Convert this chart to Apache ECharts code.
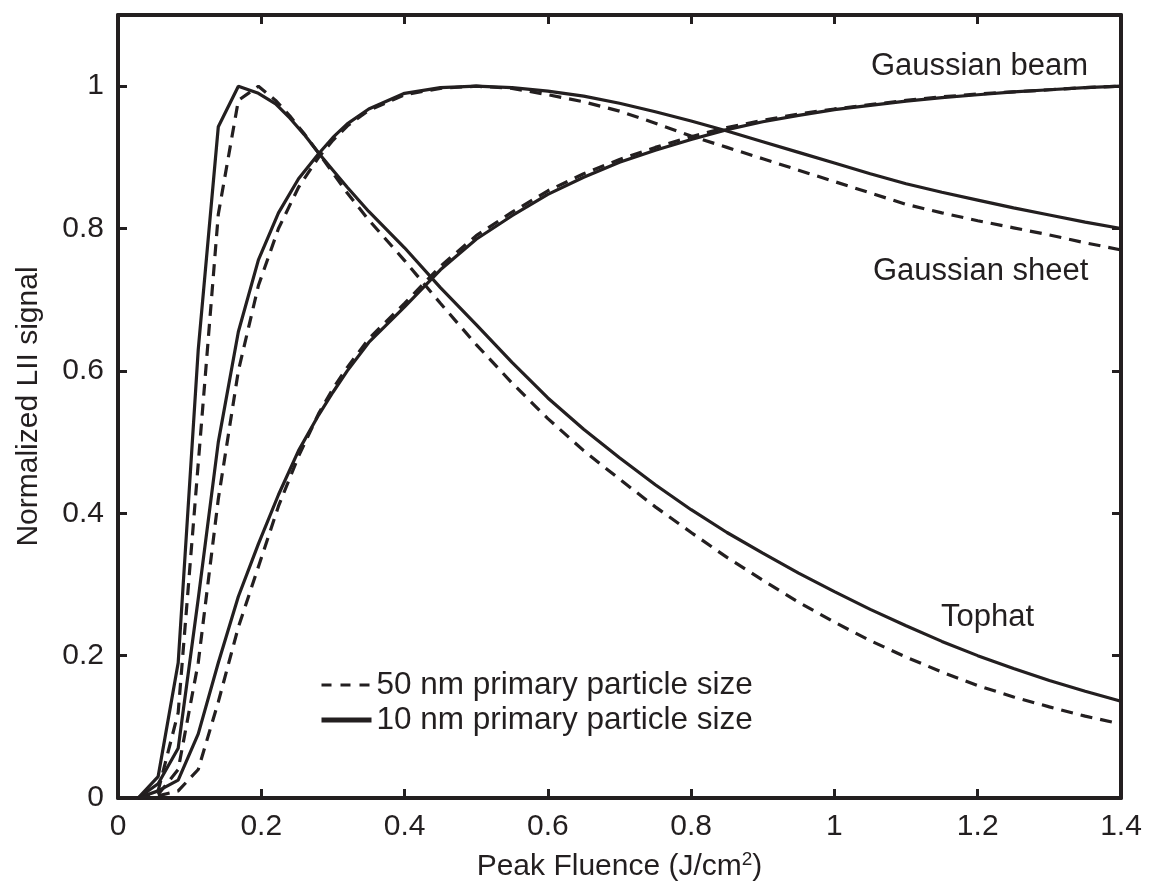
<!DOCTYPE html>
<html>
<head>
<meta charset="utf-8">
<script src="https://cdn.jsdelivr.net/npm/echarts@6/dist/echarts.min.js"></script>
<style>
html,body{margin:0;padding:0;background:#fff;}
#chart{width:1149px;height:893px;}
</style>
</head>
<body>
<div id="chart"></div>
<script>
// Peak fluence (J/cm^2) sample points and normalized LII signal values
var tophat10X = [0.028,0.056,0.084,0.112,0.14,0.168,0.196,0.22,0.24,0.26,0.28,0.30,0.32,0.35,0.4,0.45,0.5,0.55,0.6,0.65,0.7,0.75,0.8,0.85,0.9,0.95,1.0,1.05,1.1,1.15,1.2,1.25,1.3,1.35,1.4];
var tophat10Y = [0,0.03,0.19,0.63,0.943,1.0,0.99,0.975,0.955,0.932,0.906,0.882,0.858,0.824,0.773,0.717,0.665,0.612,0.562,0.518,0.478,0.44,0.405,0.373,0.344,0.316,0.29,0.265,0.242,0.22,0.2,0.182,0.165,0.15,0.136];
var tophat50X = [0.028,0.056,0.084,0.112,0.14,0.168,0.196,0.22,0.24,0.26,0.28,0.30,0.32,0.35,0.4,0.45,0.5,0.55,0.6,0.65,0.7,0.75,0.8,0.85,0.9,0.95,1.0,1.05,1.1,1.15,1.2,1.25,1.3,1.35,1.4];
var tophat50Y = [0,0.01,0.12,0.47,0.82,0.98,1.0,0.98,0.958,0.933,0.906,0.878,0.85,0.812,0.755,0.695,0.637,0.583,0.533,0.488,0.448,0.409,0.373,0.338,0.306,0.275,0.247,0.221,0.198,0.177,0.158,0.142,0.128,0.115,0.104];

var sheet10X = [0.028,0.056,0.084,0.112,0.14,0.168,0.196,0.224,0.252,0.28,0.30,0.32,0.35,0.4,0.45,0.5,0.55,0.6,0.65,0.7,0.75,0.8,0.85,0.9,0.95,1.0,1.05,1.1,1.15,1.2,1.25,1.3,1.35,1.4];
var sheet10Y = [0,0.02,0.07,0.28,0.50,0.655,0.756,0.822,0.87,0.905,0.928,0.947,0.968,0.99,0.998,1.0,0.998,0.993,0.986,0.976,0.964,0.951,0.937,0.922,0.907,0.892,0.877,0.863,0.851,0.84,0.829,0.819,0.809,0.80];
var sheet50X = [0.028,0.056,0.084,0.112,0.14,0.168,0.196,0.224,0.252,0.28,0.30,0.32,0.35,0.4,0.45,0.5,0.55,0.6,0.65,0.7,0.75,0.8,0.85,0.9,0.95,1.0,1.05,1.1,1.15,1.2,1.25,1.3,1.35,1.4];
var sheet50Y = [0,0.005,0.04,0.19,0.42,0.60,0.72,0.80,0.858,0.90,0.924,0.944,0.966,0.988,0.997,1.0,0.997,0.988,0.978,0.965,0.948,0.93,0.914,0.898,0.882,0.866,0.85,0.834,0.822,0.811,0.801,0.791,0.78,0.77];

var beam10X = [0.028,0.056,0.084,0.112,0.14,0.168,0.196,0.224,0.252,0.28,0.30,0.32,0.35,0.4,0.45,0.5,0.55,0.6,0.65,0.7,0.75,0.8,0.85,0.9,0.95,1.0,1.05,1.1,1.15,1.2,1.25,1.3,1.35,1.4];
var beam10Y = [0,0.01,0.025,0.09,0.19,0.283,0.357,0.426,0.488,0.538,0.57,0.6,0.64,0.69,0.742,0.785,0.818,0.848,0.872,0.893,0.91,0.925,0.939,0.95,0.959,0.967,0.973,0.979,0.984,0.988,0.992,0.995,0.998,1.0];
var beam50X = [0.028,0.056,0.084,0.112,0.14,0.168,0.196,0.224,0.252,0.28,0.30,0.32,0.35,0.4,0.45,0.5,0.55,0.6,0.65,0.7,0.75,0.8,0.85,0.9,0.95,1.0,1.05,1.1,1.15,1.2,1.25,1.3,1.35,1.4];
var beam50Y = [0,0.003,0.01,0.04,0.135,0.24,0.325,0.41,0.48,0.54,0.575,0.605,0.645,0.695,0.747,0.79,0.823,0.853,0.877,0.897,0.914,0.929,0.942,0.952,0.961,0.968,0.974,0.98,0.985,0.989,0.992,0.995,0.998,1.0];

var xTicks = [0,0.2,0.4,0.6,0.8,1,1.2,1.4];
var yTicks = [0,0.2,0.4,0.6,0.8,1];
var legendNames = ['50 nm primary particle size','10 nm primary particle size'];
var curveLabels = ['Gaussian beam','Gaussian sheet','Tophat'];

function pairs(xs, ys){ return xs.map(function(x,i){ return [x, ys[i]]; }); }

var INK = '#231f20';
var FONT = '"Liberation Sans", Arial, Helvetica, sans-serif';
var DASH = [12, 8];

function lineSeries(name, xs, ys, dashed){
  return {
    type: 'line', name: name, data: pairs(xs, ys),
    showSymbol: false, symbol: 'none', smooth: false, silent: true,
    animation: false,
    lineStyle: { color: INK, width: 3.2, type: dashed ? DASH : 'solid', cap: 'butt' },
    itemStyle: { color: INK },
    z: dashed ? 3 : 2
  };
}

function baseXAxis(pos){
  return {
    type: 'value', position: pos, min: 0, max: 1.4, interval: 0.2,
    axisLine: { show: true, onZero: false, lineStyle: { color: INK, width: 4 } },
    axisTick: { show: true, inside: true, length: 9, lineStyle: { color: INK, width: 3 } },
    splitLine: { show: false },
    axisLabel: { show: pos === 'bottom', margin: 14, color: INK, fontSize: 30, fontFamily: FONT,
      formatter: function(v){ var r = Math.round(v*10)/10; return xTicks.indexOf(r) >= 0 ? String(r) : ''; } }
  };
}
function baseYAxis(pos){
  return {
    type: 'value', position: pos, min: 0, max: 1.1, interval: 0.2,
    axisLine: { show: true, onZero: false, lineStyle: { color: INK, width: 4 } },
    axisTick: { show: true, inside: true, length: 9, lineStyle: { color: INK, width: 3 } },
    splitLine: { show: false },
    axisLabel: { show: pos === 'left', margin: 14, color: INK, fontSize: 30, fontFamily: FONT, showMaxLabel: false,
      formatter: function(v){ var r = Math.round(v*10)/10; return yTicks.indexOf(r) >= 0 ? String(r) : ''; } }
  };
}

var chart = echarts.init(document.getElementById('chart'), null, { renderer: 'canvas' });

var xB = baseXAxis('bottom');
xB.name = 'Peak Fluence (J/cm{sup|2})';
xB.nameLocation = 'middle';
xB.nameGap = 52;
xB.nameTextStyle = { color: INK, fontSize: 30, fontFamily: FONT, verticalAlign: 'top',
  rich: { sup: { fontSize: 19, fontFamily: FONT, color: INK, verticalAlign: 'top', padding: [0,0,14,0] } } };
var yL = baseYAxis('left');
yL.name = 'Normalized LII signal';
yL.nameLocation = 'middle';
yL.nameGap = 74;
yL.nameTextStyle = { color: INK, fontSize: 30, fontFamily: FONT };

var hiddenSymbol = { color: 'rgba(0,0,0,0)', borderColor: 'rgba(0,0,0,0)', borderWidth: 0 };

var option = {
  backgroundColor: '#ffffff',
  animation: false,
  grid: { left: 118, right: 28, top: 15, bottom: 95, containLabel: false },
  xAxis: [ xB, baseXAxis('top') ],
  yAxis: [ yL, baseYAxis('right') ],
  legend: {
    orient: 'vertical', left: 319, top: 669, padding: 0,
    itemWidth: 50, itemHeight: 14, itemGap: 3,
    selectedMode: false,
    textStyle: { color: INK, fontSize: 31.5, fontFamily: FONT, lineHeight: 31 },
    data: [
      { name: legendNames[0], itemStyle: hiddenSymbol, lineStyle: { type: [10, 9], width: 3.2, color: INK } },
      { name: legendNames[1], itemStyle: hiddenSymbol, lineStyle: { type: 'solid', width: 5, color: INK } }
    ]
  },
  series: [
    lineSeries(legendNames[1], tophat10X, tophat10Y, false),
    lineSeries(legendNames[0], tophat50X, tophat50Y, true),
    lineSeries(legendNames[1], sheet10X, sheet10Y, false),
    lineSeries(legendNames[0], sheet50X, sheet50Y, true),
    lineSeries(legendNames[1], beam10X, beam10Y, false),
    lineSeries(legendNames[0], beam50X, beam50Y, true)
  ],
  graphic: [
    { type: 'text', left: 871, top: 51, style: { text: curveLabels[0], fill: INK, font: '31px ' + FONT } },
    { type: 'text', left: 873, top: 256, style: { text: curveLabels[1], fill: INK, font: '31px ' + FONT } },
    { type: 'text', left: 941, top: 602, style: { text: curveLabels[2], fill: INK, font: '31px ' + FONT } }
  ]
};
chart.setOption(option);
</script>
</body>
</html>
